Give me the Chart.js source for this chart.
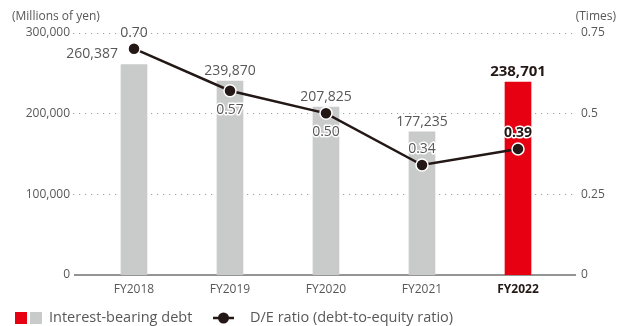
<!DOCTYPE html>
<html>
<head>
<meta charset="utf-8">
<script src="https://cdn.jsdelivr.net/npm/chart.js@4"></script>
<style>
  html, body { margin: 0; padding: 0; background: #fff; }
  #wrap { width: 624px; height: 326px; }
</style>
</head>
<body>
<div id="wrap"><canvas id="myChart" width="624" height="326"></canvas></div>
<script>
const years = ['FY2018', 'FY2019', 'FY2020', 'FY2021', 'FY2022'];
const debt = [260387, 239870, 207825, 177235, 238701];
const deRatio = [0.70, 0.57, 0.50, 0.34, 0.39];
const debtTicks = [0, 100000, 200000, 300000];
const ratioTicks = [0, 0.25, 0.5, 0.75];
const ratioTickText = ['0', '0.25', '0.5', '0.75'];

const FONT = '"Open Sans", "Noto Sans", sans-serif';
const TEXT = '#595757';
const DARK = '#231815';
const GREY_BAR = '#c9caca';
const RED_BAR = '#e60012';
const last = years.length - 1;

// grid, axis text and legend drawn by hand around the plot area
const frame = {
    id: 'frame',
    beforeDatasetsDraw(chart) {
        const { ctx } = chart;
        const y = chart.scales.y, y1 = chart.scales.y1;
        const x0 = 73, x1 = 576;
        ctx.save();
        ctx.strokeStyle = '#9fa0a0';
        ctx.lineWidth = 1.2;
        ctx.setLineDash([1.2, 4.8]);
        debtTicks.slice(1).forEach(v => {
            const py = Math.round(y.getPixelForValue(v)) + 0.5;
            ctx.beginPath(); ctx.moveTo(x0, py); ctx.lineTo(x1, py); ctx.stroke();
        });
        ctx.setLineDash([]);
        ctx.strokeStyle = '#727171';
        ctx.lineWidth = 1.5;
        const base = y.getPixelForValue(0);
        ctx.beginPath(); ctx.moveTo(x0 + 1, base); ctx.lineTo(x1, base); ctx.stroke();

        ctx.font = '12px ' + FONT;
        ctx.fillStyle = TEXT;
        ctx.textBaseline = 'middle';
        ctx.textAlign = 'right';
        debtTicks.forEach(v => ctx.fillText(v.toLocaleString('en-US'), 70, y.getPixelForValue(v)));
        ctx.textAlign = 'left';
        ratioTicks.forEach((v, i) => ctx.fillText(ratioTickText[i], 581, y1.getPixelForValue(v)));
        ctx.fillText('(Millions of yen)', 12, 17);
        ctx.textAlign = 'right';
        ctx.fillText('(Times)', 616, 17);

        const xs = chart.scales.x;
        ctx.textAlign = 'center';
        years.forEach((yr, i) => {
            ctx.font = (i === last ? 'bold ' : '') + '12px ' + FONT;
            ctx.fillStyle = i === last ? DARK : TEXT;
            ctx.fillText(yr, xs.getPixelForValue(i), 290);
        });

        // legend
        const ly = 318;
        ctx.fillStyle = RED_BAR; ctx.fillRect(15, 312, 12, 12);
        ctx.fillStyle = GREY_BAR; ctx.fillRect(30, 312, 12, 12);
        ctx.font = '14.5px ' + FONT;
        ctx.fillStyle = TEXT;
        ctx.textAlign = 'left';
        ctx.fillText('Interest-bearing debt', 49, ly);
        ctx.strokeStyle = DARK; ctx.lineWidth = 2.5;
        ctx.beginPath(); ctx.moveTo(213, ly); ctx.lineTo(234, ly); ctx.stroke();
        ctx.fillStyle = DARK;
        ctx.beginPath(); ctx.arc(223.5, ly, 5.5, 0, Math.PI * 2); ctx.fill();
        ctx.fillStyle = TEXT;
        ctx.fillText('D/E ratio (debt-to-equity ratio)', 250, ly);
        ctx.restore();
    },
    afterDatasetsDraw(chart) {
        const { ctx } = chart;
        const pts = chart.getDatasetMeta(0).data;
        const bars = chart.getDatasetMeta(1).data;
        ctx.save();
        ctx.textBaseline = 'middle';
        bars.forEach((bar, i) => {
            const bold = i === last;
            ctx.font = (bold ? 'bold 15px ' : '14px ') + FONT;
            ctx.fillStyle = bold ? DARK : TEXT;
            if (i === 0) {
                ctx.textAlign = 'right';
                ctx.fillText(debt[i].toLocaleString('en-US'), bar.x - 16, bar.y - 11);
            } else {
                ctx.textAlign = 'center';
                ctx.fillText(debt[i].toLocaleString('en-US'), bar.x, bar.y - 10);
            }
        });
        // ratio labels: above the point unless the line comes down into it
        const below = [false, true, true, false, false];
        pts.forEach((p, i) => {
            const bold = i === last;
            ctx.font = (bold ? 'bold 14px ' : '14px ') + FONT;
            ctx.textAlign = 'center';
            const ty = below[i] ? p.y + 19 : p.y - 16;
            const txt = deRatio[i].toFixed(2);
            ctx.lineJoin = 'round';
            ctx.strokeStyle = '#ffffff';
            ctx.lineWidth = 3;
            if (i > 0) ctx.strokeText(txt, p.x, ty);
            ctx.fillStyle = bold ? DARK : TEXT;
            ctx.fillText(txt, p.x, ty);
        });
        ctx.restore();
    }
};

const ctx = document.getElementById('myChart').getContext('2d');
const myChart = new Chart(ctx, {
    type: 'bar',
    data: {
        labels: years,
        datasets: [
            {
                type: 'line',
                label: 'D/E ratio (debt-to-equity ratio)',
                data: deRatio,
                yAxisID: 'y1',
                borderColor: DARK,
                borderWidth: 2.5,
                pointRadius: 6,
                pointHoverRadius: 6,
                pointBackgroundColor: DARK,
                pointBorderColor: '#ffffff',
                pointBorderWidth: 1.5,
                tension: 0,
                order: 0
            },
            {
                label: 'Interest-bearing debt',
                data: debt,
                yAxisID: 'y',
                backgroundColor: debt.map((v, i) => i === last ? RED_BAR : GREY_BAR),
                barThickness: 26,
                order: 1
            }
        ]
    },
    options: {
        responsive: false,
        animation: false,
        layout: { padding: { left: 86, right: 58, top: 32.5, bottom: 51 } },
        plugins: { legend: { display: false }, tooltip: { enabled: false } },
        scales: {
            x: { display: false, offset: true },
            y: { display: false, min: 0, max: 300000 },
            y1: { display: false, position: 'right', min: 0, max: 0.75 }
        }
    },
    plugins: [frame]
});
</script>
</body>
</html>
